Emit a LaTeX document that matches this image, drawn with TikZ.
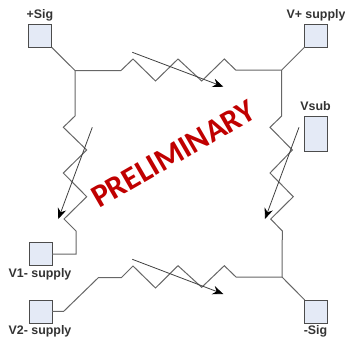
\documentclass[tikz,border=0pt]{standalone}
\usepackage{fontspec}
\setmainfont{Liberation Sans}
\newfontfamily\stampfont{Carlito}
\usepackage{tikz}
\usetikzlibrary{positioning,arrows.meta}
\definecolor{padfill}{HTML}{E4EAF6}
\definecolor{wiregray}{HTML}{666666}
\definecolor{stampred}{HTML}{C00000}
\tikzset{pad/.style={draw=black!70, fill=padfill, line width=0.7pt, inner sep=0pt, outer sep=0pt, minimum width=17.3pt, minimum height=17.3pt}}
\tikzset{padlbl/.style={inner sep=0pt, text=black!80, font=\fontsize{9.3}{11}\selectfont\bfseries}}
\tikzset{wire/.style={draw=wiregray, line width=0.75pt, line join=miter}}
\tikzset{tune/.style={draw=black!75, line width=0.6pt, -{Stealth[length=8pt,width=6.5pt,color=black]}}}
\begin{document}
\begin{tikzpicture}[x=0.75pt, y=-0.75pt]
    \useasboundingbox (0,0) rectangle (345,339);
    % pads
    \node[pad] (sigp) at (40.3,36) {};
    \node[pad] (vplus) at (316.2,35.5) {};
    \node[pad, minimum height=26.2pt] (vsub) at (316.2,133.5) {};
    \node[pad] (vone) at (40.6,254) {};
    \node[pad] (vtwo) at (40.6,311.5) {};
    \node[pad] (sigm) at (316.2,311.5) {};
    % pad labels
    \node[padlbl] (sigplbl) at (40,15.5) {+Sig};
    \node[padlbl] (vpluslbl) at (316,15.5) {V+ supply};
    \node[padlbl] (vsublbl) at (315.5,106.5) {Vsub};
    \node[padlbl] (vonelbl) at (40,274) {V1- supply};
    \node[padlbl] (vtwolbl) at (40,331.5) {V2- supply};
    \node[padlbl] (sigmlbl) at (315.5,331.5) {-Sig};
    % junctions
    \coordinate (jtl) at (75,70.5);
    \coordinate (jtr) at (281.7,70);
    \coordinate (jbr) at (282,277);
    % resistors
    \draw[wire] (sigp.south east) -- (jtl);
    \draw[wire] (vplus.south west) -- (jtr);
    \draw[wire] (sigm.north west) -- (jbr);
    \draw[wire] (jtl) -- (121,70.5) -- ++(12,-11.5) -- ++(22.5,22) -- ++(22.5,-22)
        -- ++(23.7,22) -- ++(22.6,-22) -- ++(11.4,11) -- (jtr);
    \draw[wire] (jtl) -- (75,116) -- ++(-11.7,11.3) -- ++(23.4,22.7) -- ++(-23.4,23)
        -- ++(23.4,23.7) -- ++(-22.7,22.3) -- ++(12,12) -- (76,254) -- (vone.east);
    \draw[wire] (jtr) -- (281.7,116) -- ++(-11.7,11.3) -- ++(22.3,22.7) -- ++(-22.3,23)
        -- ++(23.3,23.7) -- ++(-22.6,22.3) -- ++(11.6,12) -- (jbr);
    \draw[wire] (jbr) -- (236,277) -- ++(-11.7,-11.3) -- ++(-22.6,21.6) -- ++(-23.7,-21.6)
        -- ++(-22.5,22.3) -- ++(-22.5,-22) -- ++(-11.7,11.7) -- ++(-23,0) -- ++(-34.6,33.6) -- (vtwo.east);
    % tuning arrows
    \coordinate (tatop) at (132.3,52.3);
    \coordinate (tbtop) at (223.3,86.7);
    \coordinate (taleft) at (92.3,127.3);
    \coordinate (tbleft) at (58.3,219);
    \coordinate (taright) at (299,127.3);
    \coordinate (tbright) at (265,219);
    \coordinate (tabot) at (132.3,259.3);
    \coordinate (tbbot) at (223.3,294);
    \draw[tune] (tatop) -- (tbtop);
    \draw[tune] (taleft) -- (tbleft);
    \draw[tune] (taright) -- (tbright);
    \draw[tune] (tabot) -- (tbbot);
    % stamp
    \node[rotate=30, text=stampred, inner sep=0pt, font=\stampfont\fontsize{24}{28}\selectfont\bfseries] (stamp) at (173.5,154) {PRELIMINARY};
\end{tikzpicture}
\end{document}
